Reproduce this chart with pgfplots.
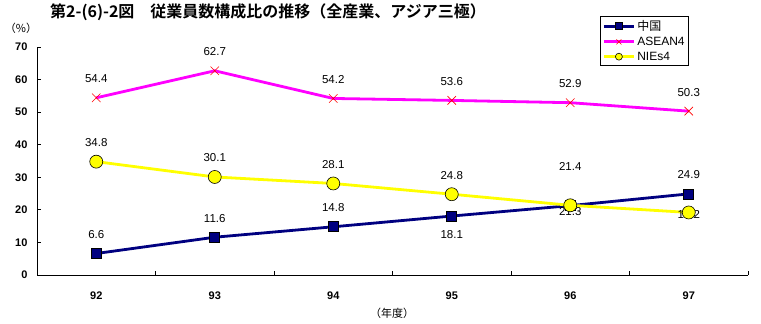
\documentclass[border=0pt]{standalone}
\usepackage{pgfplots}
\pgfplotsset{compat=1.18}
\usepackage{fontspec}
\setmainfont{Liberation Sans}
\newfontfamily\jp{Noto Sans CJK JP}[BoldFont={Noto Sans CJK JP Bold}]
\definecolor{navy}{RGB}{0,0,128}
\definecolor{mag}{RGB}{255,0,255}
\definecolor{yel}{RGB}{255,255,0}
\begin{document}
\begin{tikzpicture}
\useasboundingbox (0,0) rectangle (761bp,324bp);
\fill[white] (0,0) rectangle (761bp,324bp);
\begin{axis}[
  at={(37bp,49bp)}, anchor=south west,
  scale only axis, width=711bp, height=228bp,
  xmin=-0.5, xmax=5.5, ymin=0, ymax=70,
  axis x line*=bottom, axis y line*=left,
  axis line style={black, line width=0.8bp},
  xtick={0,1,2,3,4,5},
  xticklabels={92,93,94,95,96,97},
  minor xtick={-0.5,0.5,1.5,2.5,3.5,4.5,5.5},
  major x tick style={draw=none},
  minor x tick style={draw=black, line width=0.8bp},
  minor tick length=4bp,
  ytick={0,10,...,70},
  y tick style={black, line width=0.8bp},
  major tick length=4bp,
  tick align=inside,
  ticklabel style={font=\fontsize{11bp}{13bp}\selectfont\bfseries},
  xticklabel style={yshift=-13bp},
  yticklabel style={xshift=-6bp},
  /pgf/number format/assume math mode=true,
  legend style={at={(0.792,1.136)}, anchor=north west, draw=black, line width=0.8bp,
    font=\fontsize{12bp}{14bp}\selectfont, row sep=1bp, inner sep=2bp},
  legend cell align=left,
  legend image code/.code={
    \draw[#1, mark=none] (0bp,0bp) -- (30bp,0bp);
    \draw[#1, only marks, mark size=3.5bp] plot coordinates {(15bp,0bp)};
  },
  clip=false,
]
\addplot[navy, line width=2.8bp, mark=square*, mark size=5bp,
  mark options={fill=navy, draw=black, line width=0.6bp}]
  coordinates {(0,6.6) (1,11.6) (2,14.8) (3,18.1) (4,21.3) (5,24.9)};
\addlegendentry{{\jp 中国}}
\addplot[mag, line width=2.8bp, mark=x, mark size=6bp,
  mark options={draw=red, line width=0.6bp}]
  coordinates {(0,54.4) (1,62.7) (2,54.2) (3,53.6) (4,52.9) (5,50.3)};
\addlegendentry{ASEAN4}
\addplot[yel, line width=2.8bp, mark=*, mark size=6.5bp,
  mark options={fill=yel, draw=black, line width=0.6bp}]
  coordinates {(0,34.8) (1,30.1) (2,28.1) (3,24.8) (4,21.4) (5,19.2)};
\addlegendentry{NIEs4}
\tikzset{lab/.style={font=\fontsize{11.5bp}{13bp}\selectfont, inner sep=0pt}}
% China labels
\node[lab, yshift=19bp] at (axis cs:0,6.6) {6.6};
\node[lab, yshift=19bp] at (axis cs:1,11.6) {11.6};
\node[lab, yshift=19bp] at (axis cs:2,14.8) {14.8};
\node[lab, yshift=-18bp] at (axis cs:3,18.1) {18.1};
\node[lab, yshift=-6bp] at (axis cs:4,21.3) {21.3};
\node[lab, yshift=19bp] at (axis cs:5,24.9) {24.9};
% ASEAN labels
\node[lab, yshift=19bp] at (axis cs:0,54.4) {54.4};
\node[lab, yshift=19bp] at (axis cs:1,62.7) {62.7};
\node[lab, yshift=19bp] at (axis cs:2,54.2) {54.2};
\node[lab, yshift=19bp] at (axis cs:3,53.6) {53.6};
\node[lab, yshift=19bp] at (axis cs:4,52.9) {52.9};
\node[lab, yshift=19bp] at (axis cs:5,50.3) {50.3};
% NIEs labels
\node[lab, yshift=19bp] at (axis cs:0,34.8) {34.8};
\node[lab, yshift=19bp] at (axis cs:1,30.1) {30.1};
\node[lab, yshift=19bp] at (axis cs:2,28.1) {28.1};
\node[lab, yshift=19bp] at (axis cs:3,24.8) {24.8};
\node[lab, yshift=39bp] at (axis cs:4,21.4) {21.4};
\node[lab, yshift=-2bp] at (axis cs:5,19.2) {19.2};
\end{axis}
\node[font=\jp\fontsize{16bp}{18bp}\selectfont\bfseries] at (268bp,312bp) {第2-(6)-2図　従業員数構成比の推移（全産業、アジア三極）};
\node[font=\jp\fontsize{11bp}{13bp}\selectfont] at (21bp,296bp) {（\%）};
\node[font=\jp\fontsize{11bp}{13bp}\selectfont] at (392bp,11bp) {（年度）};
\end{tikzpicture}
\end{document}
